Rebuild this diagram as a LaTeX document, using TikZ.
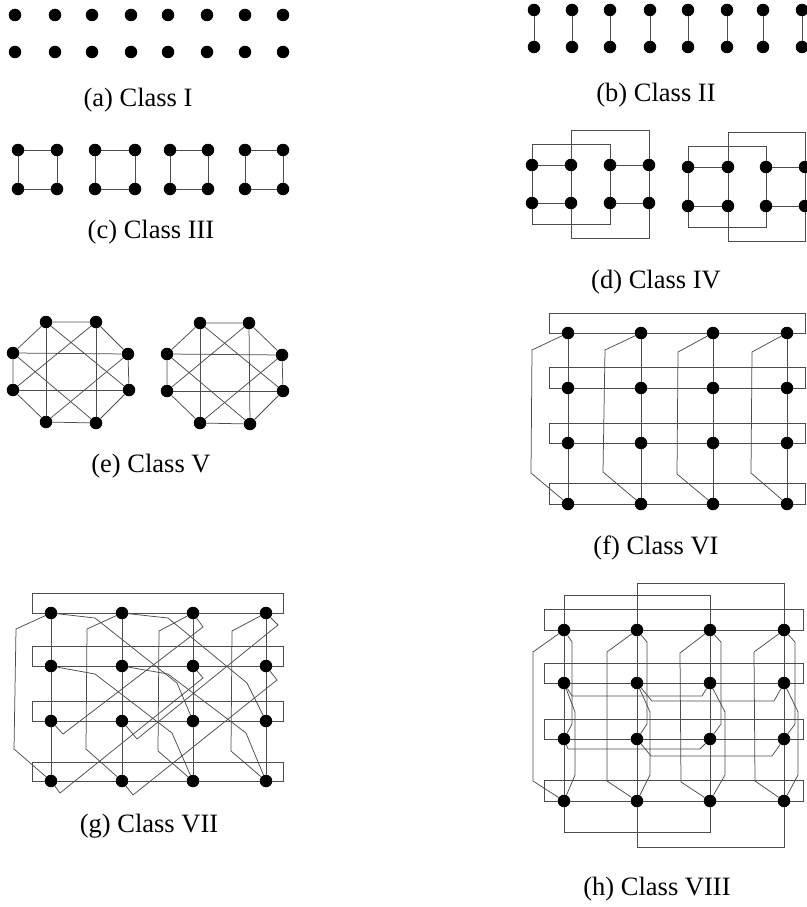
\documentclass[tikz,border=0pt]{standalone}
\usepackage{fontspec}
\setmainfont{Liberation Serif}
\begin{document}
\begin{tikzpicture}[x=1pt,y=-1pt,
  dot/.style={circle,fill=black,inner sep=0pt,minimum size=12.5pt},
  wire/.style={draw=black!70,line width=0.75pt},
  captext/.style={font=\fontsize{26.5}{31}\selectfont,inner sep=0pt}]
\useasboundingbox (0,0) rectangle (806,907);

% ---------- (a) Class I : isolated nodes ----------
\foreach \x [count=\i] in {15,55,92,131,168,207,245,283} {
  \node[dot] (a-t\i) at (\x,15) {};
  \node[dot] (a-b\i) at (\x,52) {};
}
\node[captext] (cap-a) at (138,100) {(a) Class I};

% ---------- (b) Class II : matched pairs ----------
\foreach \x [count=\i] in {534,572,610,650,688,727,763,802} {
  \node[dot] (b-t\i) at (\x,10) {};
  \node[dot] (b-b\i) at (\x,47) {};
  \draw[wire] (b-t\i) -- (b-b\i);
}
\node[captext] (cap-b) at (656,95) {(b) Class II};

% ---------- (c) Class III : four squares ----------
\foreach \q/\xl/\xr in {1/18/57,2/95/135,3/170/208,4/245/283} {
  \node[dot] (c\q-tl) at (\xl,150) {};
  \node[dot] (c\q-tr) at (\xr,150) {};
  \node[dot] (c\q-bl) at (\xl,189) {};
  \node[dot] (c\q-br) at (\xr,189) {};
  \draw[wire] (c\q-tl) -- (c\q-tr) -- (c\q-br) -- (c\q-bl) -- (c\q-tl);
}
\node[captext] (cap-c) at (151,232) {(c) Class III};

% ---------- (d) Class IV : two cubes ----------
\foreach \g/\xa/\xb/\xc/\xd/\yt/\yb/\la/\lb/\lc/\ld in
   {1/532/571/610/649/165/203/144/130/224/238,
    2/688/728/766/805/167/206/146/132/227/241} {
  \node[dot] (d\g-t1) at (\xa,\yt) {};
  \node[dot] (d\g-t2) at (\xb,\yt) {};
  \node[dot] (d\g-t3) at (\xc,\yt) {};
  \node[dot] (d\g-t4) at (\xd,\yt) {};
  \node[dot] (d\g-b1) at (\xa,\yb) {};
  \node[dot] (d\g-b2) at (\xb,\yb) {};
  \node[dot] (d\g-b3) at (\xc,\yb) {};
  \node[dot] (d\g-b4) at (\xd,\yb) {};
  \draw[wire] (d\g-t1) -- (d\g-t2);
  \draw[wire] (d\g-t3) -- (d\g-t4);
  \draw[wire] (d\g-b1) -- (d\g-b2);
  \draw[wire] (d\g-b3) -- (d\g-b4);
  \foreach \k in {1,2,3,4} \draw[wire] (d\g-t\k) -- (d\g-b\k);
  \draw[wire] (d\g-t1) -- (\xa,\la) -- (\xc,\la) -- (d\g-t3);
  \draw[wire] (d\g-t2) -- (\xb,\lb) -- (\xd,\lb) -- (d\g-t4);
  \draw[wire] (d\g-b1) -- (\xa,\lc) -- (\xc,\lc) -- (d\g-b3);
  \draw[wire] (d\g-b2) -- (\xb,\ld) -- (\xd,\ld) -- (d\g-b4);
}
\node[captext] (cap-d) at (656,282) {(d) Class IV};

% ---------- (e) Class V : two octagons with chords ----------
\foreach \g/\pa/\pb/\pc/\pd/\pe/\pf/\pg/\ph in
   {1/{46,322}/{96,322}/{128,354}/{129,390}/{96,423}/{46,422}/{13,390}/{13,353},
    2/{200,323}/{249,323}/{282,355}/{283,391}/{250,424}/{200,423}/{167,391}/{167,354}} {
  \node[dot] (e\g-1) at (\pa) {};
  \node[dot] (e\g-2) at (\pb) {};
  \node[dot] (e\g-3) at (\pc) {};
  \node[dot] (e\g-4) at (\pd) {};
  \node[dot] (e\g-5) at (\pe) {};
  \node[dot] (e\g-6) at (\pf) {};
  \node[dot] (e\g-7) at (\pg) {};
  \node[dot] (e\g-8) at (\ph) {};
  \draw[wire] (e\g-1) -- (e\g-2) -- (e\g-3) -- (e\g-4) -- (e\g-5)
              -- (e\g-6) -- (e\g-7) -- (e\g-8) -- (e\g-1);
  \foreach \u/\v in {1/6,2/5,8/3,7/4,1/4,2/7,8/5,3/6}
    \draw[wire] (e\g-\u) -- (e\g-\v);
}
\node[captext] (cap-e) at (151,466) {(e) Class V};

% ---------- (f) Class VI : 4x4 torus ----------
\foreach \r/\y in {1/333,2/388,3/443,4/504}
  \foreach \c/\x in {1/568,2/641,3/713,4/787}
    \node[dot] (f-\r-\c) at (\x,\y) {};
\foreach \r/\y/\t in {1/333/313,2/388/367,3/443/423,4/504/483}
  \draw[wire] (f-\r-1) -- (f-\r-2) -- (f-\r-3) -- (f-\r-4) -- (805,\y)
              -- (805,\t) -- (549,\t) -- (549,\y) -- (f-\r-1);
\foreach \c/\ua/\va/\ub/\vb in {1/532/350/531/473,2/605/350/603/472,
                                3/678/352/677/474,4/752/352/751/473} {
  \draw[wire] (f-1-\c) -- (f-2-\c) -- (f-3-\c) -- (f-4-\c);
  \draw[wire] (f-1-\c) -- (\ua,\va) -- (\ub,\vb) -- (f-4-\c);
}
\node[captext] (cap-f) at (656,548) {(f) Class VI};

% ---------- (g) Class VII : torus with diagonal jumps ----------
\foreach \r/\y in {1/613,2/666,3/721,4/781}
  \foreach \c/\x in {1/51,2/122,3/193,4/266}
    \node[dot] (g-\r-\c) at (\x,\y) {};
\foreach \r/\y/\t in {1/613/593,2/666/646,3/721/701,4/781/762}
  \draw[wire] (g-\r-1) -- (g-\r-2) -- (g-\r-3) -- (g-\r-4) -- (283,\y)
              -- (283,\t) -- (32,\t) -- (32,\y) -- (g-\r-1);
\foreach \c/\ua/\va/\ub/\vb in {1/16/629/14/749,2/87/629/86/749,
                                3/159/631/158/751,4/232/631/231/751} {
  \draw[wire] (g-1-\c) -- (g-2-\c) -- (g-3-\c) -- (g-4-\c);
  \draw[wire] (g-1-\c) -- (\ua,\va) -- (\ub,\vb) -- (g-4-\c);
}
\draw[wire] (g-1-1) -- (95,618) -- (177,683) -- (g-3-3);
\draw[wire] (g-1-2) -- (168,618) -- (247,683) -- (g-3-4);
\draw[wire] (g-2-1) -- (95,674) -- (172,733) -- (g-4-3);
\draw[wire] (g-2-2) -- (168,674) -- (246,733) -- (g-4-4);
\draw[wire] (g-1-3) -- (203,627) -- (63,734) -- (g-3-1);
\draw[wire] (g-1-4) -- (278,625) -- (137,739) -- (g-3-2);
\draw[wire] (g-2-3) -- (203,678) -- (60,793) -- (g-4-1);
\draw[wire] (g-2-4) -- (277,680) -- (133,795) -- (g-4-2);
\node[captext] (cap-g) at (149,826) {(g) Class VII};

% ---------- (h) Class VIII : torus with skip-two links ----------
\foreach \r/\y in {1/630,2/683,3/739,4/801}
  \foreach \c/\x in {1/564,2/637,3/710,4/784}
    \node[dot] (h-\r-\c) at (\x,\y) {};
\foreach \r/\y/\t in {1/630/609,2/683/663,3/739/719,4/801/780}
  \draw[wire] (h-\r-1) -- (h-\r-2) -- (h-\r-3) -- (h-\r-4) -- (803,\y)
              -- (803,\t) -- (544,\t) -- (544,\y) -- (h-\r-1);
\foreach \c/\x/\ua/\va/\ub/\vb/\oa/\ob in
   {1/564/533/652/533/781/8/11, 2/637/607/652/607/781/10/13,
    3/710/680/653/681/782/11/15, 4/784/754/652/755/781/11/14} {
  \draw[wire] (h-1-\c) -- (h-2-\c) -- (h-3-\c) -- (h-4-\c);
  \draw[wire] (h-1-\c) -- (\ua,\va) -- (\ub,\vb) -- (h-4-\c);
  \draw[wire] (h-1-\c) -- (\x+\oa,642) -- (\x+\oa,724) -- (h-3-\c);
  \draw[wire] (h-2-\c) -- (\x+\ob,712) -- (\x+\ob,775) -- (h-4-\c);
}
\draw[wire] (h-1-1) -- (564,595) -- (710,595) -- (h-1-3);
\draw[wire] (h-1-2) -- (637,583) -- (784,583) -- (h-1-4);
\draw[wire] (h-4-1) -- (564,832) -- (710,832) -- (h-4-3);
\draw[wire] (h-4-2) -- (637,847) -- (784,847) -- (h-4-4);
\draw[wire] (h-2-1) -- (572,696) -- (702,696) -- (h-2-3);
\draw[wire] (h-2-2) -- (652,701) -- (774,701) -- (h-2-4);
\draw[wire] (h-3-1) -- (568,749) -- (700,749) -- (h-3-3);
\draw[wire] (h-3-2) -- (651,756) -- (772,756) -- (h-3-4);
\node[captext] (cap-h) at (657,889) {(h) Class VIII};
\end{tikzpicture}
\end{document}
